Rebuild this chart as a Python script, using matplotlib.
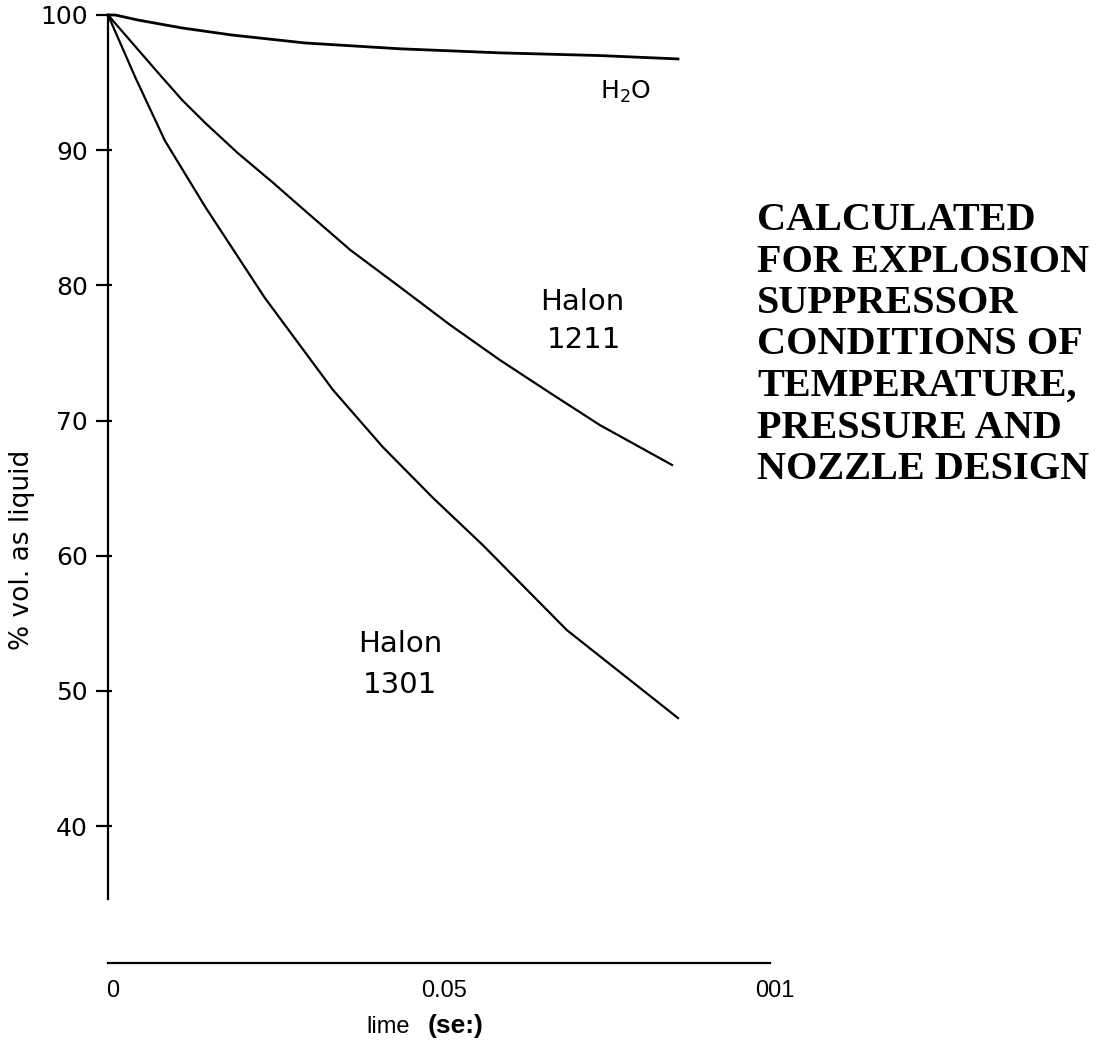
import matplotlib
matplotlib.use("Agg")
import matplotlib.pyplot as plt
import matplotlib.transforms as mtransforms

# ---- data ----
t_h2o = [0.0, 0.0011, 0.0045, 0.0112, 0.0187, 0.0298, 0.0441, 0.0592, 0.0743, 0.0861]
v_h2o = [100.0, 100.0, 99.63, 99.04, 98.52, 97.93, 97.5, 97.2, 97.0, 96.75]

t_1211 = [0.0, 0.0076, 0.0112, 0.0147, 0.0196, 0.0248, 0.0293, 0.0366,
          0.0441, 0.0517, 0.0592, 0.0668, 0.0743, 0.0852]
v_1211 = [100.0, 95.71, 93.71, 92.01, 89.79, 87.65, 85.72, 82.62,
          79.88, 77.07, 74.48, 72.04, 69.67, 66.72]

t_1301 = [0.0, 0.0041, 0.0086, 0.0147, 0.0237, 0.0340, 0.0415, 0.0491, 0.0566,
          0.0693, 0.0861]
v_1301 = [100.0, 95.41, 90.7, 85.80, 79.07, 72.26, 68.05, 64.28, 60.80,
          54.51, 48.00]

y_ticks = [40, 50, 60, 70, 80, 90, 100]
x_ticks = [0.0, 0.05, 0.1]
x_ticklabels = ["0", "0.05", "001"]

note_lines = ["CALCULATED", "FOR EXPLOSION", "SUPPRESSOR", "CONDITIONS OF",
              "TEMPERATURE,", "PRESSURE AND", "NOZZLE DESIGN"]

W, H = 1104, 1041
fig = plt.figure(figsize=(W / 100, H / 100), dpi=100)
ax = fig.add_axes([108 / W, 1 - 899 / H, (770 - 108) / W, (899 - 15) / H])

ax.plot(t_h2o, v_h2o, color="black", lw=2.0, clip_on=False, solid_joinstyle="round")
ax.plot(t_1211, v_1211, color="black", lw=1.6, clip_on=False, solid_joinstyle="round")
ax.plot(t_1301, v_1301, color="black", lw=1.6, clip_on=False, solid_joinstyle="round")

ax.set_xlim(0, 0.1)
ax.set_ylim(100 - 884 / 13.52, 100)

for s in ["top", "right"]:
    ax.spines[s].set_visible(False)
ax.spines["left"].set_linewidth(1.6)
ax.spines["bottom"].set_linewidth(1.6)
ax.spines["bottom"].set_position(("outward", 64 * 0.72))

ax.set_yticks(y_ticks)
ax.set_yticks(y_ticks, minor=True)
ax.yaxis.remove_overlapping_locs = False
ax.set_yticklabels([str(v) for v in y_ticks], fontfamily="DejaVu Sans", fontsize=18)
ax.tick_params(axis="y", which="major", direction="out", length=9, width=1.6, pad=5.5)
ax.tick_params(axis="y", which="minor", direction="in", length=3, width=1.6)

ax.set_xticks(x_ticks)
ax.set_xticklabels(x_ticklabels, fontfamily="Liberation Sans", fontsize=17)
ax.tick_params(axis="x", length=0, pad=12)
offset = mtransforms.ScaledTranslation(5 / 100, 0, fig.dpi_scale_trans)
for lab in ax.get_xticklabels():
    lab.set_transform(lab.get_transform() + offset)

# y label
fig.text(22 / W, 1 - 550 / H, "% vol. as liquid", rotation=90, ha="center", va="center",
         fontfamily="DejaVu Sans", fontsize=19)

# x label
fig.text(410 / W, 1 - 1033 / H, "lime", ha="right", va="baseline",
         fontfamily="Liberation Sans", fontsize=17)
fig.text(428 / W, 1 - 1033 / H, "(se:)", ha="left", va="baseline",
         fontfamily="Liberation Sans", fontsize=19, fontweight="bold")

# curve labels
lab_kw = dict(fontfamily="DejaVu Sans", fontsize=21, ha="left", va="top")
ax.text(0.0743, 95.3, r"H$_2$O", fontfamily="DejaVu Sans", fontsize=18, ha="left", va="top")
ax.text(0.0653, 79.8, "Halon", **lab_kw)
ax.text(0.0663, 77.0, "1211", **lab_kw)
ax.text(0.0378, 54.5, "Halon", **lab_kw)
ax.text(0.0385, 51.5, "1301", **lab_kw)

# right-hand note
for i, line in enumerate(note_lines):
    fig.text(757 / W, 1 - (230 + i * 41.5) / H, line, ha="left", va="baseline",
             fontfamily="Liberation Serif", fontweight="bold", fontsize=29)

fig.savefig("out.png", dpi=100)
